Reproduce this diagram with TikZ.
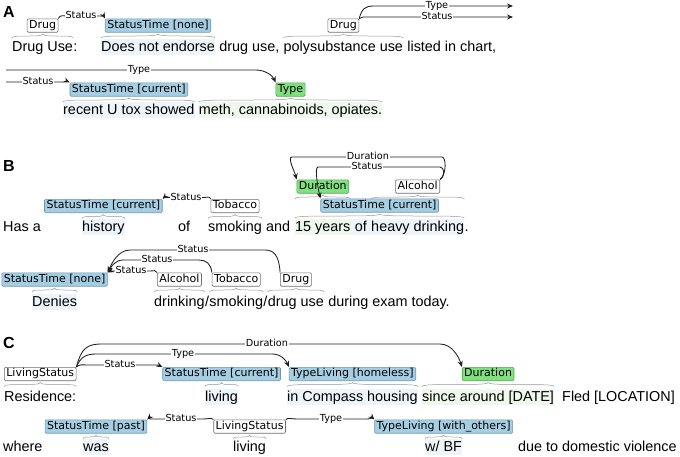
\documentclass[tikz,border=0pt]{standalone}
\usepackage{fontspec}
\setmainfont{Liberation Sans}
\newfontfamily\djv{DejaVu Sans}
\usetikzlibrary{arrows.meta,calc,backgrounds}
\definecolor{bfill}{RGB}{166,206,227}
\definecolor{bdraw}{RGB}{105,150,178}
\definecolor{gfill}{RGB}{128,224,128}
\definecolor{gdraw}{RGB}{80,165,80}
\definecolor{wdraw}{RGB}{110,110,110}
\definecolor{hlbc}{RGB}{238,245,250}
\definecolor{hlgc}{RGB}{239,248,236}
\definecolor{brcol}{RGB}{150,150,150}
\definecolor{arccol}{RGB}{30,30,30}
\tikzset{
 txt/.style={anchor=base west, inner sep=0pt, font=\fontsize{14.4}{16}\selectfont},
 hdr/.style={anchor=base west, inner sep=0pt, font=\fontsize{16}{18}\selectfont\bfseries},
 lbl/.style={rounded corners=1.2pt, inner xsep=2pt, inner ysep=1.4pt, text height=8.2pt, text depth=2.4pt, font=\djv\fontsize{11}{12}\selectfont, line width=0.6pt},
 lblue/.style={lbl, fill=bfill, draw=bdraw},
 lgreen/.style={lbl, fill=gfill, draw=gdraw},
 lwhite/.style={lbl, fill=white, draw=wdraw},
 arcl/.style={draw=arccol, line width=0.85pt},
 arr/.style={arcl, -{Stealth[length=6pt,width=5pt]}},
 alab/.style={fill=white, inner xsep=1pt, inner ysep=0.5pt, text height=7pt, text depth=1.5pt, font=\djv\fontsize{9.7}{10}\selectfont, text=black},
 brcline/.style={draw=brcol, line width=0.5pt},
}
\newcommand\brcdraw[3]{\draw[brcline] let \p1=(#1.west), \p2=(#2.east), \p3=(#3.south), \p4=($(\p1)!0.5!(\p2)$) in (\x1,\y3-5.5pt) .. controls (\x1,\y3-1.5pt) and (\x4,\y3-5.5pt) .. (\x4,\y3-1.5pt) .. controls (\x4,\y3-5.5pt) and (\x2,\y3-1.5pt) .. (\x2,\y3-5.5pt);}
\newcommand\hlt[3]{\fill[#3] let \p1=(#1.base west), \p2=(#2.base east) in (\x1,\y1+12.5pt) rectangle (\x2,\y1-4pt);}
\begin{document}
\begin{tikzpicture}[x=1pt,y=-1pt]
\useasboundingbox (0,0) rectangle (680,456);
% ---------------- A
\node[hdr] (hA) at (3,17.5) {A};
\node[txt] (a1t1) at (12,51) {Drug Use};
\node[txt] (a1t1b) at (a1t1.base east) {:};
\node[txt] (a1t2) at (101,51) {Does not endorse};
\node[txt] (a1t3) at ([xshift=4pt]a1t2.base east) {drug use,};
\node[txt] (a1t4) at ([xshift=4pt]a1t3.base east) {polysubstance use};
\node[txt] (a1t5) at ([xshift=4pt]a1t4.base east) {listed in chart,};
\node[txt] (a2t1) at (63,114) {recent U tox showed};
\node[txt] (a2t2) at ([xshift=4pt]a2t1.base east) {meth, cannabinoids, opiates.};
\node[lwhite] (a1b1) at (a1t1 |- 0,25.5) {Drug};
\node[lblue] (a1b2) at (a1t2 |- 0,25.5) {StatusTime [none]};
\node[lwhite] (a1b3) at (a1t4 |- 0,25.5) {Drug};
\node[lblue] (a2b1) at (a2t1 |- 0,89.5) {StatusTime [current]};
\node[lgreen] (a2b2) at (a2t2 |- 0,89.5) {Type};
% ---------------- B
\node[hdr] (hB) at (3,171.5) {B};
\node[txt] (b1t1) at (3,231) {Has a};
\node[txt] (b1t2) at (82,231) {history};
\node[txt] (b1t3) at (178,231) {of};
\node[txt] (b1t4) at (208,231) {smoking};
\node[txt] (b1t5) at (266,231) {and};
\node[txt] (b1t6) at (295,231) {15 years};
\node[txt] (b1t7) at ([xshift=4pt]b1t6.base east) {of};
\node[txt] (b1t8) at ([xshift=4pt]b1t7.base east) {heavy drinking};
\node[txt] (b1t9) at (b1t8.base east) {.};
\node[lblue] (b1b1) at (b1t2 |- 0,206) {StatusTime [current]};
\node[lwhite] (b1b2) at (b1t4 |- 0,206) {Tobacco};
\node[lgreen] (b1b3) at (b1t6 |- 0,186.5) {Duration};
\node[lwhite] (b1b4) at (b1t8 |- 0,186.5) {Alcohol};
\coordinate (b1m) at ($(b1t6.west)!0.5!(b1t8.east)$);
\node[lblue] (b1b5) at (b1m |- 0,205.5) {StatusTime [current]};
\node[txt] (b2t1) at (32,306) {Denies};
\node[txt] (b2t2) at (154,306) {drinking};
\node[txt] (b2t3) at (b2t2.base east) {/};
\node[txt] (b2t4) at (b2t3.base east) {smoking};
\node[txt] (b2t5) at (b2t4.base east) {/};
\node[txt] (b2t6) at (b2t5.base east) {drug use};
\node[txt] (b2t7) at ([xshift=4pt]b2t6.base east) {during exam today.};
\node[lblue] (b2b1) at (b2t1 |- 0,279.5) {StatusTime [none]};
\node[lwhite] (b2b2) at (b2t2 |- 0,279.5) {Alcohol};
\node[lwhite] (b2b3) at (b2t4 |- 0,279.5) {Tobacco};
\node[lwhite] (b2b4) at (b2t6 |- 0,279.5) {Drug};
% ---------------- C
\node[hdr] (hC) at (3,348) {C};
\node[txt] (c1t1) at (4,401) {Residence:};
\node[txt] (c1t2) at (205,401) {living};
\node[txt] (c1t3) at (287,401) {in Compass housing};
\node[txt] (c1t4) at (422,401) {since around [DATE]};
\node[txt] (c1t5) at (562,401) {Fled [LOCATION]};
\node[lwhite] (c1b1) at (c1t1 |- 0,374) {LivingStatus};
\node[lblue] (c1b2) at (c1t2 |- 0,374) {StatusTime [current]};
\node[lblue] (c1b3) at (c1t3 |- 0,374) {TypeLiving [homeless]};
\node[lgreen] (c1b4) at (c1t4 |- 0,374) {Duration};
\node[txt] (c2t1) at (3,451) {where};
\node[txt] (c2t2) at (83,451) {was};
\node[txt] (c2t3) at (233,451) {living};
\node[txt] (c2t4) at (425,451) {w/ BF};
\node[txt] (c2t5) at (518,451) {due to domestic violence};
\node[lblue] (c2b1) at (c2t2 |- 0,426.5) {StatusTime [past]};
\node[lwhite] (c2b2) at (c2t3 |- 0,426.5) {LivingStatus};
\node[lblue] (c2b3) at (c2t4 |- 0,426.5) {TypeLiving [with\_others]};
% ---------------- highlights
\begin{pgfonlayer}{background}
\hlt{a1t2}{a1t2}{hlbc}
\hlt{a2t1}{a2t1}{hlbc}
\hlt{a2t2}{a2t2}{hlgc}
\hlt{b1t2}{b1t2}{hlbc}
\hlt{b1t6}{b1t8}{hlbc}
\hlt{b1t6}{b1t6}{hlgc}
\hlt{b2t1}{b2t1}{hlbc}
\hlt{c1t2}{c1t2}{hlbc}
\hlt{c1t3}{c1t3}{hlbc}
\hlt{c1t4}{c1t4}{hlgc}
\hlt{c2t2}{c2t2}{hlbc}
\hlt{c2t4}{c2t4}{hlbc}
\end{pgfonlayer}
% ---------------- brackets
\brcdraw{a1t1}{a1t1}{a1b1}
\brcdraw{a1t2}{a1t2}{a1b2}
\brcdraw{a1t4}{a1t4}{a1b3}
\brcdraw{a2t1}{a2t1}{a2b1}
\brcdraw{a2t2}{a2t2}{a2b2}
\brcdraw{b1t2}{b1t2}{b1b1}
\brcdraw{b1t4}{b1t4}{b1b2}
\brcdraw{b1t6}{b1t6}{b1b3}
\brcdraw{b1t8}{b1t8}{b1b4}
\brcdraw{b1t6}{b1t8}{b1b5}
\brcdraw{b2t1}{b2t1}{b2b1}
\brcdraw{b2t2}{b2t2}{b2b2}
\brcdraw{b2t4}{b2t4}{b2b3}
\brcdraw{b2t6}{b2t6}{b2b4}
\brcdraw{c1t1}{c1t1}{c1b1}
\brcdraw{c1t2}{c1t2}{c1b2}
\brcdraw{c1t3}{c1t3}{c1b3}
\brcdraw{c1t4}{c1t4}{c1b4}
\brcdraw{c2t2}{c2t2}{c2b1}
\brcdraw{c2t3}{c2t3}{c2b2}
\brcdraw{c2t4}{c2t4}{c2b3}
% ---------------- arcs A
\draw[arr] (a1b1.north east) .. controls +(2,-4) and +(-5,0) .. (68,16) -- (97,16) .. controls +(3,0) and +(-1,-2) .. (a1b2.north west);
\node[alab] (a1l1) at (81,16) {Status};
\coordinate (a1e1) at (513,6);
\coordinate (a1e2) at (513,17);
\draw[arr] (a1b3.north east) .. controls +(3,-10) and +(-9,0) .. (374,6) -- (a1e1);
\draw[arr] (a1b3.north east) .. controls +(3,-2) and +(-9,0) .. (372,17) -- (a1e2);
\node[alab] (a1l2) at (437,6) {Type};
\node[alab] (a1l3) at (437,17) {Status};
\coordinate (a2s1) at (6,70);
\coordinate (a2s2) at (6,82);
\draw[arr] (a2s1) -- (256,70) .. controls +(9,0) and +(-3,-7) .. (a2b2.north west);
\node[alab] (a2l1) at (139,70) {Type};
\draw[arr] (a2s2) -- (62,82) .. controls +(3,0) and +(-2,-1) .. (a2b1.north west);
\node[alab] (a2l2) at (38,82) {Status};
% ---------------- arcs B
\draw[arr] (b1b2.north west) .. controls +(-1,-3) and +(4,0) .. (203,197.5) -- (169,197.5) .. controls +(-3,0) and +(1,-1) .. (b1b1.north east);
\node[alab] (b1l1) at (186,197.5) {Status};
\draw[arr] (b1b4.north east) .. controls +(7,-6) and +(4,0) .. (442,157) -- (292,157) .. controls +(-5,0) and +(-2,-8) .. (b1b3.north west);
\node[alab] (b1l2) at (368,157) {Duration};
\draw[arr] (b1b4.north east) .. controls +(6,-4) and +(4,0) .. (440,167) -- (318,167) .. controls +(-4,0) and +(-2,-8) .. (b1b5.north west);
\node[alab] (b1l3) at (367,167) {Status};
\draw[arr] (b2b2.north west) .. controls +(-1,-3) and +(4,0) .. (150,271) -- (116,271) .. controls +(-3,0) and +(2,-1) .. (b2b1.north east);
\node[alab] (b2l1) at (131,271) {Status};
\draw[arr] (b2b3.north west) .. controls +(-1,-9) and +(7,0) .. (199,260) -- (123,260) .. controls +(-8,0) and +(3,-5) .. (b2b1.north east);
\node[alab] (b2l2) at (157,260) {Status};
\draw[arr] (b2b4.north west) .. controls +(-1,-17) and +(9,0) .. (265,250) -- (130,250) .. controls +(-12,0) and +(4,-9) .. (b2b1.north east);
\node[alab] (b2l3) at (193,250) {Status};
% ---------------- arcs C
\draw[arr] (c1b1.north east) .. controls +(3,-3) and +(-5,0) .. (88,365) -- (156,365) .. controls +(3,0) and +(-2,-1) .. (c1b2.north west);
\node[alab] (c1l1) at (120,365) {Status};
\draw[arr] (c1b1.north east) .. controls +(4,-10) and +(-10,0) .. (96,354) -- (272,354) .. controls +(9,0) and +(-3,-7) .. (c1b3.north west);
\node[alab] (c1l2) at (183,354) {Type};
\draw[arr] (c1b1.north east) .. controls +(5,-19) and +(-15,0) .. (102,344) -- (440,344) .. controls +(12,0) and +(-3,-10) .. (c1b4.north west);
\node[alab] (c1l3) at (267,344) {Duration};
\draw[arr] (c2b2.north west) .. controls +(-2,-2) and +(5,0) .. (203,419) -- (152,419) .. controls +(-3,0) and +(1,-1) .. (c2b1.north east);
\node[alab] (c2l1) at (181,419) {Status};
\draw[arr] (c2b2.north east) .. controls +(2,-2) and +(-5,0) .. (297,419) -- (366,419) .. controls +(3,0) and +(-1,-1) .. (c2b3.north west);
\node[alab] (c2l2) at (331,419) {Type};
\end{tikzpicture}
\end{document}
